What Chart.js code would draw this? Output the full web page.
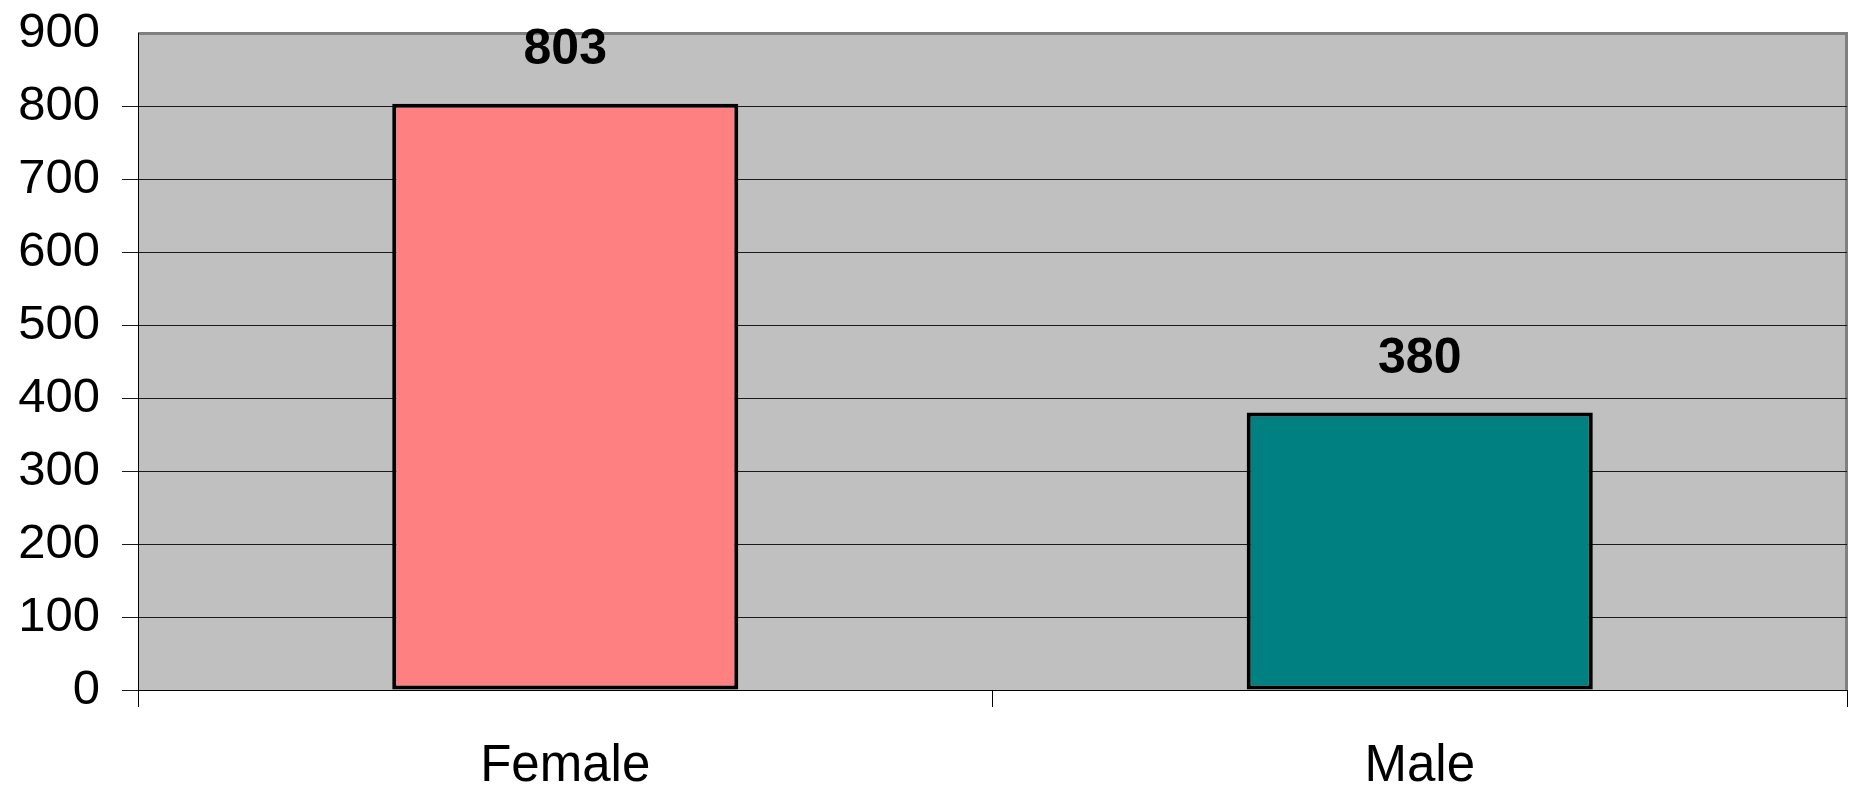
<!DOCTYPE html>
<html>
<head>
<meta charset="utf-8">
<script src="https://cdn.jsdelivr.net/npm/chart.js@4/dist/chart.umd.min.js"></script>
<style>
  html, body { margin: 0; padding: 0; background: #ffffff; }
  #wrap { width: 1856px; height: 789px; }
</style>
</head>
<body>
<div id="wrap"><canvas id="c" width="1856" height="789"></canvas></div>
<script>
// Respondents by gender
const categories = ['Female', 'Male'];
const counts = [803, 380];
const barColors = ['#FF8080', '#008080'];
const yMin = 0;
const yMax = 900;
const yStep = 100;

const FONT = "'Liberation Sans', Arial, Helvetica, sans-serif";

// Grey plot area with a darker frame, drawn before the grid
const plotBackground = {
  id: 'plotBackground',
  beforeDraw(chart) {
    const { ctx, chartArea: a } = chart;
    ctx.save();
    ctx.fillStyle = '#C0C0C0';
    ctx.fillRect(a.left, a.top, a.right - a.left, a.bottom - a.top);
    ctx.strokeStyle = '#808080';
    ctx.lineWidth = 3;
    ctx.beginPath();
    ctx.moveTo(a.left, a.top + 0.5);
    ctx.lineTo(a.right - 0.5, a.top + 0.5);
    ctx.lineTo(a.right - 0.5, a.bottom);
    ctx.stroke();
    ctx.restore();
  }
};

// Value printed above each bar
const valueLabels = {
  id: 'valueLabels',
  afterDatasetsDraw(chart) {
    const { ctx } = chart;
    const meta = chart.getDatasetMeta(0);
    ctx.save();
    ctx.font = 'bold 50px ' + FONT;
    ctx.fillStyle = '#000000';
    ctx.textAlign = 'center';
    ctx.textBaseline = 'alphabetic';
    meta.data.forEach((bar, i) => {
      ctx.fillText(String(counts[i]), bar.x, bar.y - 40);
    });
    ctx.restore();
  }
};

new Chart(document.getElementById('c'), {
  type: 'bar',
  data: {
    labels: categories,
    datasets: [{
      data: counts,
      backgroundColor: barColors,
      borderColor: '#000000',
      borderWidth: 4,
      borderSkipped: false,
      barPercentage: 0.405,
      categoryPercentage: 1.0
    }]
  },
  options: {
    responsive: false,
    animation: false,
    devicePixelRatio: 1,
    layout: { padding: { top: 33, right: 9, left: 0, bottom: 0 } },
    plugins: {
      legend: { display: false },
      tooltip: { enabled: false },
      title: { display: false }
    },
    scales: {
      x: {
        offset: true,
        grid: {
          offset: true,
          drawOnChartArea: false,
          drawTicks: true,
          tickLength: 17,
          color: '#000000',
          lineWidth: 1
        },
        border: { display: true, color: '#000000', width: 1 },
        ticks: {
          color: '#000000',
          font: { family: FONT, size: 51 },
          padding: 29,
          maxRotation: 0
        },
        afterFit(scale) {
          scale.height = 99;
          scale.paddingLeft = 0;
          scale.paddingRight = 0;
        }
      },
      y: {
        min: yMin,
        max: yMax,
        grid: {
          drawOnChartArea: true,
          drawTicks: true,
          tickLength: 16,
          color: (c) => (c.tick && c.tick.value === yMax) ? 'rgba(0,0,0,0)' : '#1a1a1a',
          lineWidth: 1
        },
        border: { display: true, color: '#000000', width: 1 },
        ticks: {
          stepSize: yStep,
          color: '#000000',
          font: { family: FONT, size: 49 },
          padding: 22
        },
        afterFit(scale) {
          scale.width = 138;
          scale.paddingTop = 0;
          scale.paddingBottom = 0;
        }
      }
    }
  },
  plugins: [plotBackground, valueLabels]
});
</script>
</body>
</html>
